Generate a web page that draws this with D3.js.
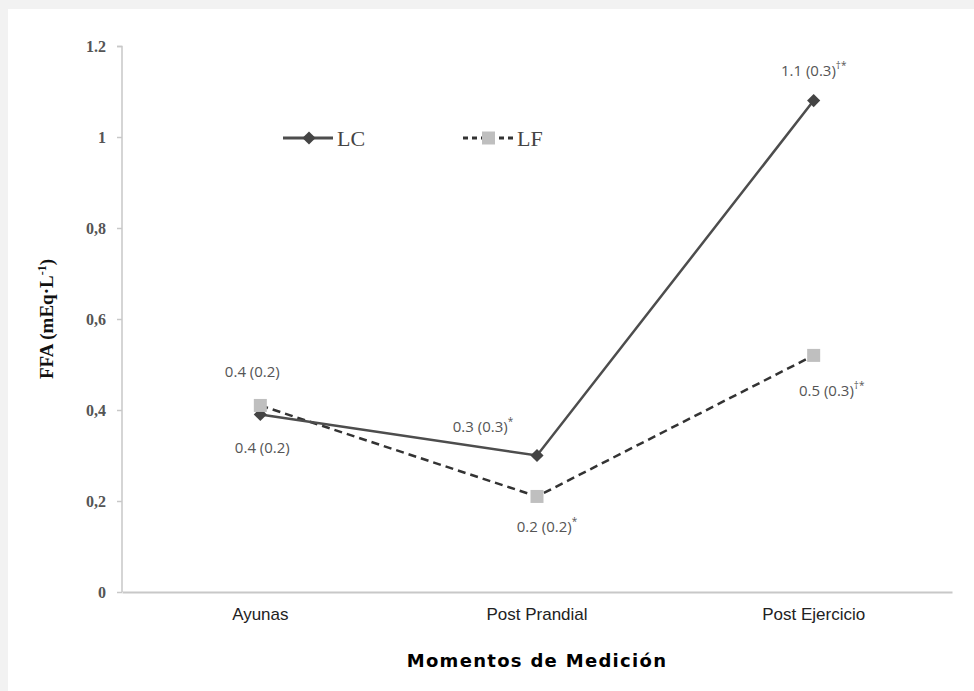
<html>
<head>
<style>
  body { margin: 0; background: #f2f2f2; }
  .tick text { font-family: "Liberation Serif", serif; }
</style>
</head>
<body>
<svg width="974" height="691"></svg>
<script src="https://cdnjs.cloudflare.com/ajax/libs/d3/7.8.5/d3.min.js"></script>
<script>

var categories = ["Ayunas", "Post Prandial", "Post Ejercicio"];
var lcValues = [0.39, 0.30, 1.08];
var lfValues = [0.41, 0.21, 0.52];
var yTicks = [0, 0.2, 0.4, 0.6, 0.8, 1, 1.2];
var yTickLabels = ["0", "0,2", "0,4", "0,6", "0,8", "1", "1.2"];
// main text, superscript
var lcLabels = [["0.4 (0.2)", ""], ["0.3 (0.3)", "*"], ["1.1 (0.3)", "\u2020*"]];
var lfLabels = [["0.4 (0.2)", ""], ["0.2 (0.2)", "*"], ["0.5 (0.3)", "\u2020*"]];

var svg = d3.select("svg"),
    margin = {top: 46, right: 22, bottom: 99, left: 122},
    width = +svg.attr("width") - margin.left - margin.right,
    height = +svg.attr("height") - margin.top - margin.bottom;

svg.append("rect")
    .attr("x", 8).attr("y", 9)
    .attr("width", 974).attr("height", 691)
    .attr("fill", "#fff");

var g = svg.append("g").attr("transform", "translate(" + margin.left + "," + margin.top + ")");

var x = d3.scaleBand()
    .domain(categories)
    .range([0, width]);

var y = d3.scaleLinear()
    .domain([0, 1.2])
    .range([height, 0]);

var cx = function(i) { return x(categories[i]) + x.bandwidth() / 2; };

// y axis
var yAxis = g.append("g")
    .call(d3.axisLeft(y).tickValues(yTicks).tickSize(5).tickPadding(11)
      .tickFormat(function(d, i) { return yTickLabels[i]; }));
yAxis.select(".domain").attr("stroke", "#c8c8c8").attr("stroke-width", 1.5)
    .attr("d", "M-5,0.5H0V" + height);
yAxis.selectAll(".tick line").attr("stroke", "#c8c8c8").attr("stroke-width", 1.5);
yAxis.selectAll(".tick text")
    .attr("fill", "#555")
    .style("font-size", "16px")
    .style("font-weight", "bold");

// x axis
var xAxis = g.append("g")
    .attr("transform", "translate(0," + height + ")")
    .call(d3.axisBottom(x).tickSize(0).tickPadding(16));
xAxis.select(".domain").attr("stroke", "#c8c8c8").attr("stroke-width", 2);
xAxis.selectAll(".tick text")
    .attr("fill", "#222")
    .style("font-family", "'Liberation Sans', Arial, sans-serif")
    .style("font-size", "17px");

// axis titles
var yTitle = svg.append("text")
    .attr("transform", "translate(53," + (margin.top + height / 2) + ") rotate(-90)")
    .attr("text-anchor", "middle")
    .style("font-family", "'Liberation Serif', serif")
    .style("font-weight", "bold")
    .style("font-size", "19px")
    .attr("fill", "#111");
yTitle.append("tspan").text("FFA (mEq\u00b7L");
yTitle.append("tspan").attr("dy", -7).style("font-size", "12px").text("-1");
yTitle.append("tspan").attr("dy", 7).text(")");

svg.append("text")
    .attr("x", margin.left + width / 2)
    .attr("y", 667)
    .attr("text-anchor", "middle")
    .style("font-family", "'DejaVu Sans', Verdana, sans-serif")
    .style("font-weight", "bold")
    .style("font-size", "18px")
    .style("letter-spacing", "1.3px")
    .attr("fill", "#000")
    .text("Momentos de Medici\u00f3n");

var line = d3.line()
    .x(function(d, i) { return cx(i); })
    .y(function(d) { return y(d); });

// LF
g.append("path")
    .datum(lfValues)
    .attr("d", line)
    .attr("fill", "none")
    .attr("stroke", "#333")
    .attr("stroke-width", 2.5)
    .attr("stroke-dasharray", "8,5");

// LC
g.append("path")
    .datum(lcValues)
    .attr("d", line)
    .attr("fill", "none")
    .attr("stroke", "#4d4d4d")
    .attr("stroke-width", 2.5);

var diamond = d3.symbol().type(d3.symbolDiamond2).size(110);

g.selectAll(".lc-pt")
    .data(lcValues)
    .enter().append("path")
    .attr("class", "lc-pt")
    .attr("transform", function(d, i) { return "translate(" + cx(i) + "," + y(d) + ")"; })
    .attr("d", diamond)
    .attr("fill", "#444");

g.selectAll(".lf-pt")
    .data(lfValues)
    .enter().append("rect")
    .attr("class", "lf-pt")
    .attr("x", function(d, i) { return cx(i) - 6.5; })
    .attr("y", function(d) { return y(d) - 6.5; })
    .attr("width", 13).attr("height", 13)
    .attr("fill", "#bfbfbf");

// value labels
var lcOffsets = [[2, 38], [-54, -24], [0, -25]];
var lfOffsets = [[-8, -28], [10, 36], [18, 41]];

function addLabels(values, labels, offsets) {
  values.forEach(function(v, i) {
    var t = g.append("text")
      .attr("x", cx(i) + offsets[i][0])
      .attr("y", y(v) + offsets[i][1])
      .attr("text-anchor", "middle")
      .style("font-family", "'Open Sans', sans-serif")
      .style("font-size", "15px")
      .attr("fill", "#555")
      .text(labels[i][0]);
    if (labels[i][1]) {
      t.append("tspan").attr("dy", -7).style("font-size", "10px").text(labels[i][1]);
    }
  });
}
addLabels(lcValues, lcLabels, lcOffsets);
addLabels(lfValues, lfLabels, lfOffsets);

// legend
var legend = svg.append("g");
legend.append("line")
    .attr("x1", 283).attr("x2", 333).attr("y1", 138).attr("y2", 138)
    .attr("stroke", "#4d4d4d").attr("stroke-width", 3);
legend.append("path")
    .attr("transform", "translate(309,138)")
    .attr("d", diamond).attr("fill", "#444");
legend.append("text")
    .attr("x", 337).attr("y", 146)
    .style("font-family", "'Liberation Serif', serif")
    .style("font-size", "22px")
    .attr("fill", "#444")
    .text("LC");

legend.append("line")
    .attr("x1", 463).attr("x2", 514).attr("y1", 138).attr("y2", 138)
    .attr("stroke", "#333").attr("stroke-width", 3)
    .attr("stroke-dasharray", "5,4");
legend.append("rect")
    .attr("x", 482).attr("y", 131.5).attr("width", 13).attr("height", 13)
    .attr("fill", "#bfbfbf");
legend.append("text")
    .attr("x", 517).attr("y", 146)
    .style("font-family", "'Liberation Serif', serif")
    .style("font-size", "22px")
    .attr("fill", "#444")
    .text("LF");

</script>
</body>
</html>
